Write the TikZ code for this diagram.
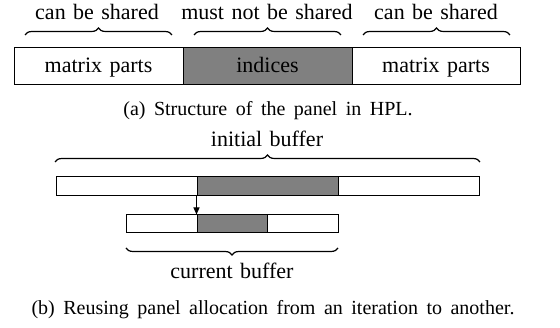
\documentclass[tikz,border=0pt]{standalone}
\usepackage{fontspec}
\setmainfont{Liberation Serif}[WordSpace=1.35]
\newfontfamily\capfont{Liberation Serif}[WordSpace=1.7]
\usetikzlibrary{decorations.pathreplacing,arrows.meta}
\tikzset{
  cell/.style={draw=black, line width=1pt, inner sep=0pt, anchor=center},
  whitecell/.style={cell, fill=white},
  graycell/.style={cell, fill=black!50},
  lbl/.style={font=\fontsize{22}{26}\selectfont, inner sep=0pt, anchor=base},
  captxt/.style={font=\capfont\fontsize{20}{24}\selectfont, inner sep=0pt, anchor=base},
  brc/.style={decorate, decoration={brace, amplitude=7pt}, line width=1.2pt},
  arr/.style={-{Triangle[length=7pt,width=6pt]}, line width=1pt}
}
\begin{document}
\begin{tikzpicture}[x=1pt,y=1pt]
\useasboundingbox (0,0) rectangle (560,328);
% (a) panel structure
\node[whitecell, minimum width=169, minimum height=37] (a1) at (98.5,261.5) {};
\node[graycell, minimum width=169, minimum height=37] (a2) at (267.5,261.5) {};
\node[whitecell, minimum width=168, minimum height=37] (a3) at (436,261.5) {};
\node[lbl] (t1) at (98.5,255) {matrix parts};
\node[lbl] (t2) at (267.5,255) {indices};
\node[lbl] (t3) at (436,255) {matrix parts};
\coordinate (b1l) at (25,293); \coordinate (b1r) at (172,293);
\coordinate (b2l) at (194,293); \coordinate (b2r) at (341,293);
\coordinate (b3l) at (363,293); \coordinate (b3r) at (510,293);
\draw[brc] (b1l) -- (b1r);
\draw[brc] (b2l) -- (b2r);
\draw[brc] (b3l) -- (b3r);
\node[lbl] (s1) at (97,308) {can be shared};
\node[lbl] (s2) at (267,308) {must not be shared};
\node[lbl] (s3) at (436,308) {can be shared};
\node[captxt] (capa) at (268,212) {(a) Structure of the panel in HPL.};
% (b) reuse
\node[lbl] (ib) at (267,181) {initial buffer};
\coordinate (ibl) at (55,166); \coordinate (ibr) at (480,166);
\draw[brc] (ibl) -- (ibr);
\node[whitecell, minimum width=141, minimum height=19] (c1) at (126.5,141.5) {};
\node[graycell, minimum width=141, minimum height=19] (c2) at (267.5,141.5) {};
\node[whitecell, minimum width=141, minimum height=19] (c3) at (408.5,141.5) {};
\node[whitecell, minimum width=71, minimum height=18] (d1) at (161.5,104) {};
\node[graycell, minimum width=70, minimum height=18] (d2) at (232,104) {};
\node[whitecell, minimum width=71, minimum height=18] (d3) at (302.5,104) {};
\draw[arr] (c2.south west) -- (d2.north west);
\coordinate (cbl) at (126,80); \coordinate (cbr) at (338,80);
\draw[brc] (cbr) -- (cbl);
\node[lbl] (cb) at (232,49) {current buffer};
\node[captxt] (capb) at (273,13) {(b) Reusing panel allocation from an iteration to another.};
\end{tikzpicture}
\end{document}
